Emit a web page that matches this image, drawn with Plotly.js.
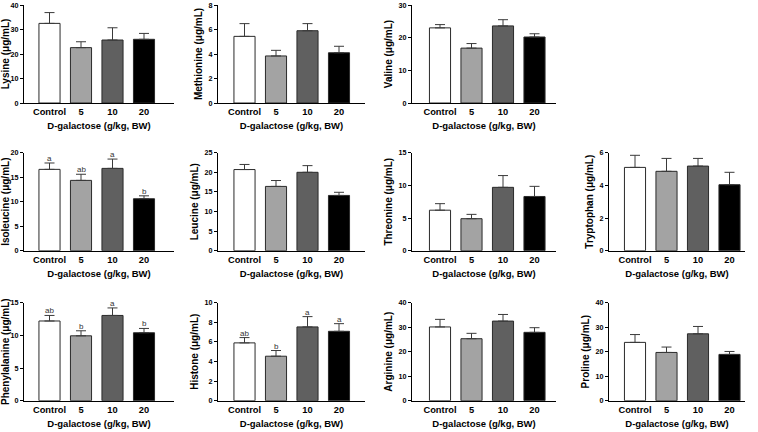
<!DOCTYPE html>
<html>
<head>
<meta charset="utf-8">
<script src="https://cdn.plot.ly/plotly-3.0.1.min.js"></script>
<style>html,body{margin:0;padding:0;background:#fff;}#chart{width:758px;height:432px;}</style>
</head>
<body>
<div id="chart"></div>
<script>
// ---------- data ----------
const groups = ["Control", "5", "10", "20"];
const barColors = ["#ffffff", "#a3a3a3", "#606060", "#000000"];

const lysine = [32.5, 22.6, 25.7, 26.0];
const lysineErr = [4.4, 2.4, 5.0, 2.4];
const methionine = [5.44, 3.84, 5.9, 4.1];
const methionineErr = [1.04, 0.46, 0.58, 0.53];
const valine = [23.0, 16.8, 23.6, 20.2];
const valineErr = [1.0, 1.4, 1.9, 1.0];
const isoleucine = [16.6, 14.35, 16.8, 10.6];
const isoleucineErr = [1.3, 1.25, 1.9, 0.6];
const isoleucineLetters = ["a", "ab", "a", "b"];
const leucine = [20.7, 16.4, 20.0, 14.1];
const leucineErr = [1.3, 1.5, 1.7, 0.8];
const threonine = [6.2, 4.9, 9.7, 8.3];
const threonineErr = [1.0, 0.66, 1.8, 1.55];
const tryptophan = [5.1, 4.86, 5.18, 4.04];
const tryptophanErr = [0.74, 0.79, 0.47, 0.76];
const phenylalanine = [12.2, 9.93, 13.05, 10.4];
const phenylalanineErr = [0.85, 0.77, 1.15, 0.66];
const phenylalanineLetters = ["ab", "b", "a", "b"];
const histone = [5.9, 4.54, 7.53, 7.08];
const histoneErr = [0.54, 0.58, 1.05, 0.78];
const histoneLetters = ["ab", "b", "a", "a"];
const arginine = [30.1, 25.3, 32.5, 27.9];
const arginineErr = [3.1, 2.2, 2.7, 1.9];
const proline = [23.8, 19.7, 27.3, 18.9];
const prolineErr = [3.2, 2.2, 3.0, 1.2];

const xTitle = "D-galactose (g/kg, BW)";

const panels = [
  {label: "Lysine (μg/mL)", v: lysine, e: lysineErr, L: null, yMax: 40, dt: 10, row: 0, col: 0},
  {label: "Methionine (μg/mL)", v: methionine, e: methionineErr, L: null, yMax: 8, dt: 2, row: 0, col: 1},
  {label: "Valine (μg/mL)", v: valine, e: valineErr, L: null, yMax: 30, dt: 10, row: 0, col: 2},
  {label: "Isoleucine (μg/mL)", v: isoleucine, e: isoleucineErr, L: isoleucineLetters, yMax: 20, dt: 5, row: 1, col: 0},
  {label: "Leucine (μg/mL)", v: leucine, e: leucineErr, L: null, yMax: 25, dt: 5, row: 1, col: 1},
  {label: "Threonine (μg/mL)", v: threonine, e: threonineErr, L: null, yMax: 15, dt: 5, row: 1, col: 2},
  {label: "Tryptophan (μg/mL)", v: tryptophan, e: tryptophanErr, L: null, yMax: 6, dt: 2, row: 1, col: 3},
  {label: "Phenylalanine (μg/mL)", v: phenylalanine, e: phenylalanineErr, L: phenylalanineLetters, yMax: 15, dt: 5, row: 2, col: 0},
  {label: "Histone (μg/mL)", v: histone, e: histoneErr, L: histoneLetters, yMax: 10, dt: 2, row: 2, col: 1},
  {label: "Arginine (μg/mL)", v: arginine, e: arginineErr, L: null, yMax: 40, dt: 10, row: 2, col: 2},
  {label: "Proline (μg/mL)", v: proline, e: prolineErr, L: null, yMax: 40, dt: 10, row: 2, col: 3}
];

// ---------- geometry (pixels) ----------
const W = 758, H = 432;
const colLeft = [24, 218, 412, 609];
const colRight = [174, 365, 556, 745];
const colC0 = [49.5, 244.5, 440, 635];
const step = 31.5;
const rowTop = [5, 152.7, 302.7];
const rowBot = [103, 250.7, 400.7];

const FONT = "Liberation Sans, Arial, Helvetica, sans-serif";
const traces = [];
const layout = {
  width: W, height: H,
  margin: {l: 0, r: 0, t: 0, b: 0},
  paper_bgcolor: "#ffffff",
  plot_bgcolor: "rgba(0,0,0,0)",
  showlegend: false,
  bargap: 0,
  font: {family: FONT, color: "#000"},
  annotations: []
};

panels.forEach((p, k) => {
  const n = k + 1;
  const xa = "x" + n, ya = "y" + n;
  const left = colLeft[p.col], right = colRight[p.col], c0 = colC0[p.col];
  const xs = groups.map((g, i) => i);
  traces.push({
    type: "bar",
    x: xs, y: p.v,
    xaxis: xa, yaxis: ya,
    width: 0.67,
    marker: {color: barColors, line: {color: "#2a2a2a", width: 1}},
    error_y: {type: "data", symmetric: false, array: p.e, arrayminus: p.e.map(() => 0),
              color: "#3a3a3a", thickness: 1, width: 5},
    hoverinfo: "skip"
  });
  layout["xaxis" + n] = {
    domain: [left / W, right / W],
    range: [(left - c0) / step, (right - c0) / step],
    anchor: ya,
    tickmode: "array", tickvals: xs, ticktext: groups,
    ticks: "", showline: true, linecolor: "#000", linewidth: 1,
    showgrid: false, zeroline: false, fixedrange: true,
    tickfont: {family: FONT, size: 9.3, weight: "bold", color: "#000"},
    title: {text: xTitle, font: {family: FONT, size: 9.5, weight: "bold", color: "#000"}, standoff: 6}
  };
  layout["yaxis" + n] = {
    domain: [1 - rowBot[p.row] / H, 1 - rowTop[p.row] / H],
    range: [0, p.yMax],
    anchor: xa,
    tickmode: "linear", tick0: 0, dtick: p.dt,
    ticks: "outside", ticklen: 3, tickwidth: 1, tickcolor: "#000",
    showline: true, linecolor: "#000", linewidth: 1,
    showgrid: false, zeroline: false, fixedrange: true,
    tickfont: {family: FONT, size: 7.2, weight: "bold", color: "#000"},
    title: {text: p.label, font: {family: FONT, size: 10, weight: "bold", color: "#000"}, standoff: 4}
  };
  if (p.L) {
    p.L.forEach((t, i) => {
      layout.annotations.push({
        xref: xa, yref: ya, x: i, y: p.v[i] + p.e[i],
        text: t, showarrow: false, yanchor: "bottom", yshift: -2,
        font: {family: FONT, size: 8, color: "#333333"}
      });
    });
  }
});

Plotly.newPlot("chart", traces, layout, {displayModeBar: false, staticPlot: true});
</script>
</body>
</html>
